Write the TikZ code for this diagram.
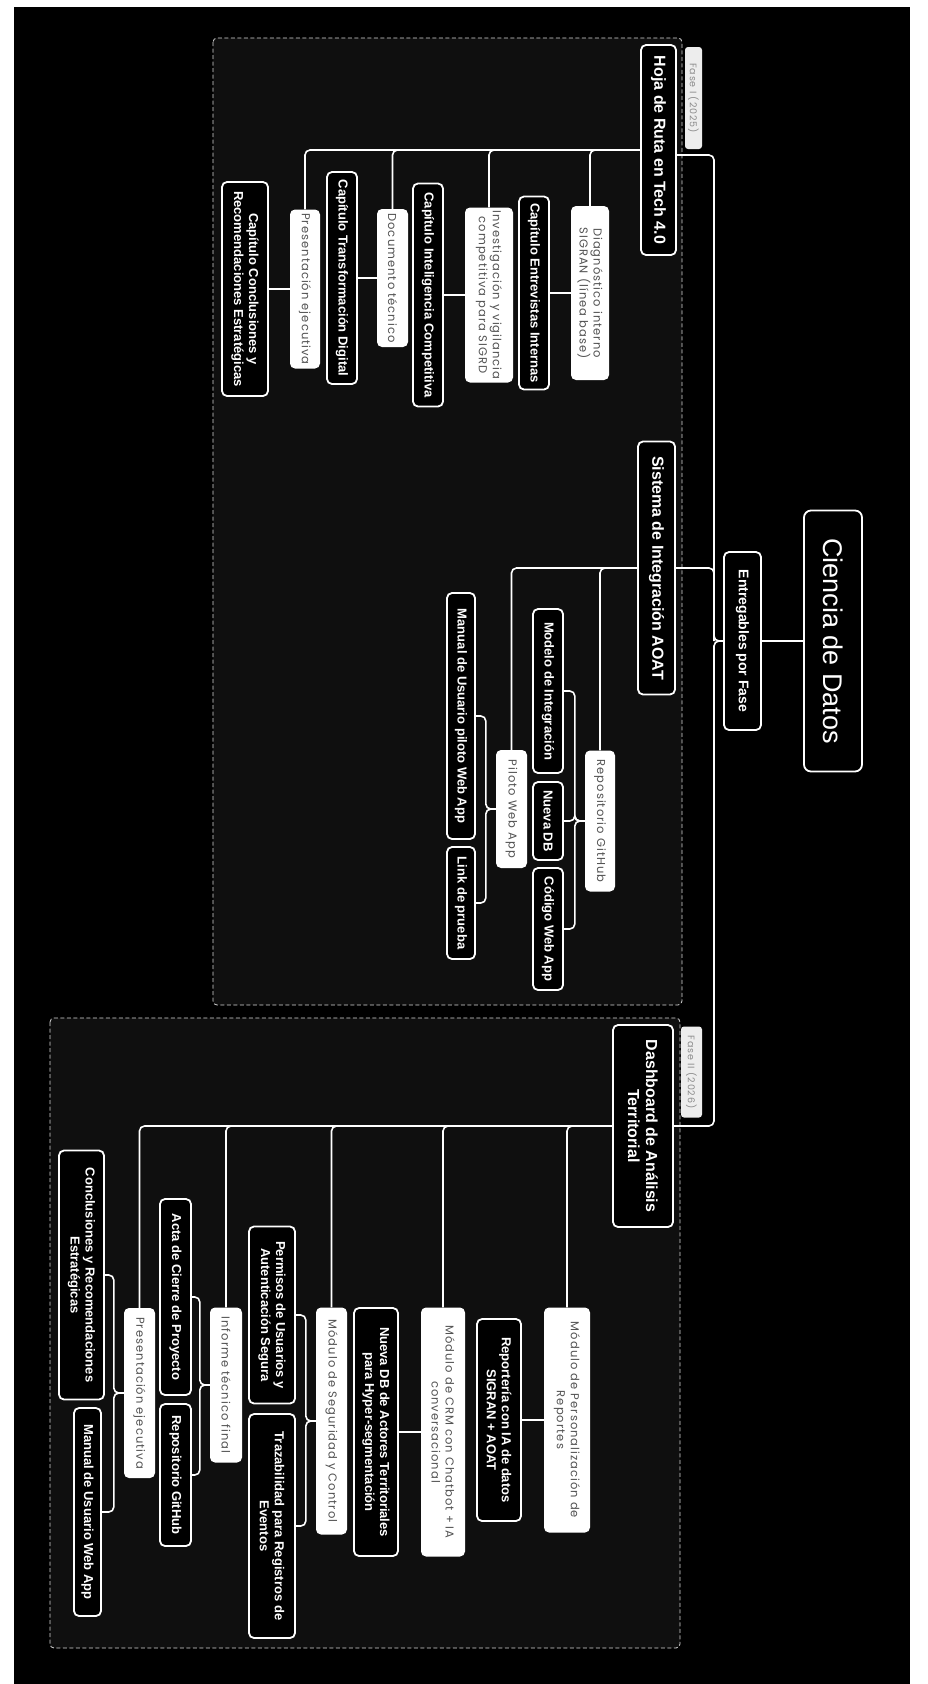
\documentclass[tikz,border=0pt]{standalone}
\usepackage{fontspec}
\setmainfont{Liberation Sans}
\newfontfamily\lightfont[LetterSpace=9]{Poppins}

\tikzset{
  conn/.style = {draw=white, line width=1.6pt, rounded corners=5pt},
  sz/.style 2 args = {minimum width=#1, minimum height=#2},
  blk/.style = {draw=white, line width=1.8pt, fill=black, text=white, rounded corners=5pt,
    rotate=-90, align=center, inner sep=4pt, font=\bfseries\fontsize{13}{15}\selectfont},
  wht/.style = {fill=white, text=black!68, rounded corners=5pt, rotate=-90, align=center,
    inner sep=3pt, font=\lightfont\fontsize{11.5}{14}\selectfont},
  phasenode/.style = {blk, font=\bfseries\fontsize{16}{18}\selectfont},
  fasetab/.style = {fill=white!93!black, text=black!45, rounded corners=3pt, rotate=-90,
    inner sep=1pt, font=\lightfont\fontsize{9.5}{10}\selectfont},
  phasebox/.style = {draw=white!85!black, dash pattern=on 4pt off 2.5pt, line width=0.8pt,
    fill=black!94!white, rounded corners=4pt}
}

\begin{document}
\begin{tikzpicture}[x=1pt, y=-1pt]
  \useasboundingbox (0,0) rectangle (928,1684);
  \fill[white] (0,0) rectangle (928,1684);
  \fill[black] (14,7) rectangle (910,1684);

  % phase frames
  \draw[phasebox] (213,38) rectangle (682,1005);
  \draw[phasebox] (50,1018) rectangle (680,1648);
  \node[fasetab, sz={102}{17}] (tab1) at (693.5,98) {Fase I (2025)};
  \node[fasetab, sz={91}{21}] (tab2) at (691.5,1072) {Fase II (2026)};

  % root
  \node[blk, sz={261}{58}, rounded corners=7pt, font=\fontsize{27}{30}\selectfont] (ciencia) at (833,641) {Ciencia de Datos};
  \node[blk, sz={178}{37}, font=\bfseries\fontsize{14}{16}\selectfont] (ent) at (742.5,641) {Entregables por Fase};
  \coordinate (tr) at (714,641);

  \node[phasenode, sz={210}{35}] (hoja) at (658.5,150) {Hoja de Ruta en Tech 4.0};
  \node[phasenode, sz={253}{37}] (sistema) at (656.5,568) {Sistema de Integración AOAT};
  \node[phasenode, sz={202}{60}] (dashb) at (643,1126) {Dashboard de Análisis\\Territorial};

  % fase I
  \node[wht, sz={174}{38}] (diag) at (590,293) {Diagnóstico interno\\SIGRAN (línea base)};
  \node[blk, sz={193}{30}] (entrev) at (534,293) {Capítulo Entrevistas Internas};
  \node[wht, sz={175}{48}] (invest) at (489,295) {Investigación y vigilancia\\competitiva para SIGRD};
  \node[blk, sz={223}{30}] (intel) at (428,295) {Capítulo Inteligencia Competitiva};
  \node[wht, sz={138}{31}] (doc) at (392.5,278) {Documento técnico};
  \node[blk, sz={212}{30}] (transf) at (342,278) {Capítulo Transformación Digital};
  \node[wht, sz={159}{30}] (pres1) at (305,289) {Presentación ejecutiva};
  \node[blk, sz={214}{46}] (concl1) at (245,289) {Capítulo Conclusiones y\\Recomendaciones Estratégicas};

  \node[wht, sz={141}{30}] (repo1) at (600,821) {Repositorio GitHub};
  \node[blk, sz={164}{30}] (modelo) at (548,691) {Modelo de Integración};
  \node[blk, sz={78}{30}] (nueva) at (548,821) {Nueva DB};
  \node[blk, sz={122}{30}] (codigo) at (548,929) {Código Web App};
  \node[wht, sz={118}{31}] (piloto) at (511.5,809) {Piloto Web App};
  \node[blk, sz={246}{28}] (manual1) at (461,716) {Manual de Usuario piloto Web App};
  \node[blk, sz={112}{28}] (link) at (461,903) {Link de prueba};

  % fase II
  \node[wht, sz={225}{46}] (mod1) at (567,1420) {Módulo de Personalización de\\Reportes};
  \node[blk, sz={202}{44}] (report) at (499,1420) {Reportería con IA de datos\\SIGRAN + AOAT};
  \node[wht, sz={249}{44}] (mod2) at (443,1432) {Módulo de CRM con Chatbot + IA\\conversacional};
  \node[blk, sz={248}{44}] (nuevadb) at (376,1432) {Nueva DB de Actores Territoriales\\para Hyper-segmentación};
  \node[wht, sz={227}{31}] (mod3) at (331.5,1421) {Módulo de Seguridad y Control};
  \node[blk, sz={177}{46}] (permisos) at (272,1315) {Permisos de Usuarios y\\Autenticación Segura};
  \node[blk, sz={224}{46}] (traza) at (272,1526) {Trazabilidad para Registros de\\Eventos};
  \node[wht, sz={155}{32}] (inf) at (226,1385) {Informe técnico final};
  \node[blk, sz={196}{31}] (acta) at (175.5,1297) {Acta de Cierre de Proyecto};
  \node[blk, sz={142}{31}] (repo2) at (175.5,1475) {Repositorio GitHub};
  \node[wht, sz={170}{31}] (pres2) at (139.5,1393) {Presentación ejecutiva};
  \node[blk, sz={249}{45}] (concl2) at (81.5,1275) {Conclusiones y Recomendaciones\\Estratégicas};
  \node[blk, sz={208}{27}] (manual2) at (87.5,1512) {Manual de Usuario Web App};

  % connectors
  \draw[conn] (ciencia.south) -- (ent.north);
  \draw[conn] (ent.south) -- (tr) |- ([yshift=-5pt]hoja.north);
  \draw[conn] (tr) |- (sistema.north);
  \draw[conn] (ent.south) -- (tr) |- (dashb.north);

  \foreach \c in {diag,invest,doc,pres1} \draw[conn] (hoja.south) -| (\c.west);
  \foreach \c in {repo1,piloto} \draw[conn] (sistema.south) -| (\c.west);
  \foreach \c in {mod1,mod2,mod3,inf,pres2} \draw[conn] (dashb.south) -| (\c.west);

  \foreach \a/\b in {diag/entrev,invest/intel,doc/transf,pres1/concl1,mod1/report,mod2/nuevadb}
    \draw[conn] (\a.south) -- (\b.north);
  \foreach \a/\b in {repo1/modelo,repo1/nueva,repo1/codigo,piloto/manual1,piloto/link,
    mod3/permisos,mod3/traza,inf/acta,inf/repo2,pres2/concl2,pres2/manual2}
    \draw[conn] (\a.south) -- ++(-10,0) |- (\b.north);
\end{tikzpicture}
\end{document}
